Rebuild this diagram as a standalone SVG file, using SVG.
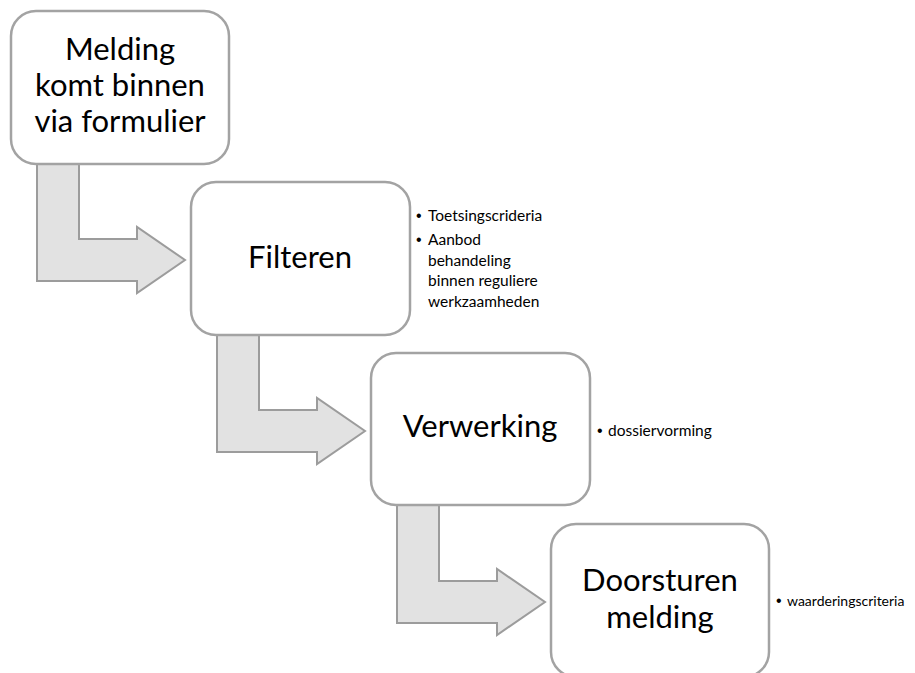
<svg xmlns="http://www.w3.org/2000/svg" width="915" height="673" viewBox="0 0 915 673">
<style>
.box{fill:#ffffff;stroke:#a3a3a3;stroke-width:2.5}
.arr{fill:#e2e2e2;stroke:#9c9c9c;stroke-width:2}
.t{font-family:Lato,"Liberation Sans",sans-serif;font-size:31px;fill:#000;text-anchor:middle}
.s{font-family:Lato,"Liberation Sans",sans-serif;font-size:15.5px;fill:#000}
.b{font-family:"Liberation Sans",sans-serif;font-size:16px;fill:#000}
</style>
<rect width="915" height="673" fill="#ffffff"/>
<g id="connectors">
<polygon class="arr" points="37,164 79,164 79,239 137,239 137,227 185,260 137,293 137,281 37,281"/>
<polygon class="arr" points="217,335 259,335 259,410 317,410 317,398 365,431 317,464 317,452 217,452"/>
<polygon class="arr" points="397,505 439,505 439,581 497,581 497,569 545,602 497,635 497,623 397,623"/>
</g>
<g id="n1">
<rect class="box" x="11" y="11" width="218" height="153" rx="25"/>
<text class="t" x="120" y="60">Melding</text>
<text class="t" x="120" y="96">komt binnen</text>
<text class="t" x="120" y="132">via formulier</text>
</g>
<g id="n2">
<rect class="box" x="191" y="182" width="219" height="153" rx="25"/>
<text class="t" x="300" y="268">Filteren</text>
<text class="b" x="416" y="221">•</text>
<text class="s" x="428" y="221">Toetsingscrideria</text>
<text class="b" x="416" y="245">•</text>
<text class="s" x="428" y="245">Aanbod</text>
<text class="s" x="428" y="266">behandeling</text>
<text class="s" x="428" y="286">binnen reguliere</text>
<text class="s" x="428" y="307">werkzaamheden</text>
</g>
<g id="n3">
<rect class="box" x="371" y="353" width="219" height="152" rx="25"/>
<text class="t" x="480" y="437">Verwerking</text>
<text class="b" x="597" y="436">•</text>
<text class="s" x="608" y="436">dossiervorming</text>
</g>
<g id="n4">
<rect class="box" x="551" y="524" width="218" height="153" rx="25"/>
<text class="t" x="660" y="591">Doorsturen</text>
<text class="t" x="660" y="628">melding</text>
<text class="b" x="776" y="606">•</text>
<text class="s" x="787" y="606" style="font-size:14px">waarderingscriteria</text>
</g>
</svg>
